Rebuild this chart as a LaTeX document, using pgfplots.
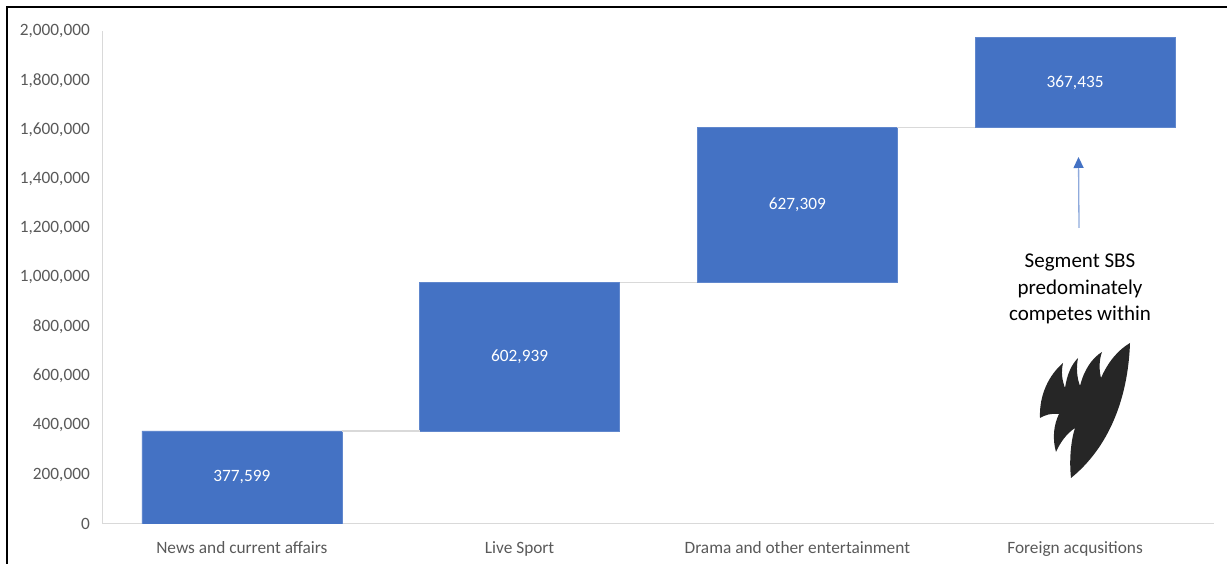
\documentclass[border=0pt]{standalone}
\usepackage{fontspec}
\setmainfont{Carlito}
\usepackage{pgfplots}
\pgfplotsset{compat=1.18}
\usetikzlibrary{arrows.meta}
\definecolor{barblue}{HTML}{4472C4}
\definecolor{axisgray}{HTML}{D9D9D9}
\definecolor{tickgray}{HTML}{595959}
\definecolor{arrowblue}{HTML}{8FAADC}
\definecolor{logogray}{HTML}{262626}
\begin{document}
\begin{tikzpicture}
\useasboundingbox (0pt,0pt) rectangle (1227pt,564pt);
\pgfplotsset{common/.style={at={(103pt,40pt)}, anchor=south west, scale only axis,
  width=1111pt, height=493pt, xmin=-0.5, xmax=3.5, ymin=0, ymax=2000000}}
\begin{axis}[common, ybar stacked, bar width=0.72,
  axis x line*=bottom, axis y line*=left,
  axis line style={axisgray, line width=1pt},
  major tick length=0pt,
  xtick={0,1,2,3},
  xticklabels={News and current affairs, Live Sport, Drama and other entertainment, Foreign acqusitions},
  ytick={0,200000,400000,600000,800000,1000000,1200000,1400000,1600000,1800000,2000000},
  scaled y ticks=false,
  ticklabel style={font=\fontsize{17.3}{20}\selectfont, text=tickgray, inner sep=0pt},
  yticklabel style={/pgf/number format/.cd, fixed, 1000 sep={,}, assume math mode=true, /tikz/.cd, anchor=east, xshift=-13pt},
  xticklabel style={anchor=base, yshift=-29.5pt}]
\addplot[fill=none, draw=none] coordinates {(0,0) (1,377599) (2,980538) (3,1607847)};
\addplot[fill=barblue, draw=barblue!85!white, line width=0.6pt] coordinates {(0,377599) (1,602939) (2,627309) (3,367435)};
\end{axis}
\begin{axis}[common, hide axis, clip=false]
\addplot[axisgray, line width=1.5pt] coordinates {(0.36,377599) (0.64,377599)};
\addplot[axisgray, line width=1.5pt] coordinates {(1.36,980538) (1.64,980538)};
\addplot[axisgray, line width=1.5pt] coordinates {(2.36,1607847) (2.64,1607847)};
\addplot[draw=none, mark=none, nodes near coords, point meta=explicit symbolic,
  nodes near coords style={anchor=center, text=white, font=\fontsize{17.3}{20}\selectfont}]
  table[meta=label] {
x y label
0 188800 377,599
1 679068 602,939
2 1294192 627,309
3 1791564 367,435
};
\end{axis}
\begin{scope}[x=1pt, y=1pt]
\draw[black, line width=2pt] (6.5,0) -- (6.5,556.5) -- (1227,556.5);
\end{scope}
\begin{scope}[x=1pt, y=1pt, shift={(0,564)}, yscale=-1]
\draw[arrowblue, line width=1.3pt, -{Triangle[length=11pt, width=10pt, fill=barblue, color=barblue]}] (1079,228) -- (1078.5,157);
\node[align=center, font=\fontsize{21}{26.5}\selectfont, text=black, inner sep=0pt] at (1080,289) {Segment SBS\\predominately\\competes within};
\fill[logogray] (1130,343)
 .. controls (1128,400) and (1108,448) .. (1071,478)
 .. controls (1069,460) and (1071,440) .. (1075,428)
 .. controls (1066,434) and (1060,443) .. (1056,452)
 .. controls (1052,438) and (1054,424) .. (1059,414)
 .. controls (1051,413) and (1045,415) .. (1040,418)
 .. controls (1039,395) and (1049,375) .. (1063,363)
 .. controls (1061,372) and (1062,380) .. (1065,388)
 .. controls (1067,375) and (1071,365) .. (1078,358)
 .. controls (1076,368) and (1077,378) .. (1080,386)
 .. controls (1084,370) and (1092,358) .. (1102,352)
 .. controls (1099,360) and (1099,370) .. (1101,378)
 .. controls (1108,362) and (1118,350) .. (1130,343) -- cycle;
\end{scope}
\end{tikzpicture}
\end{document}
